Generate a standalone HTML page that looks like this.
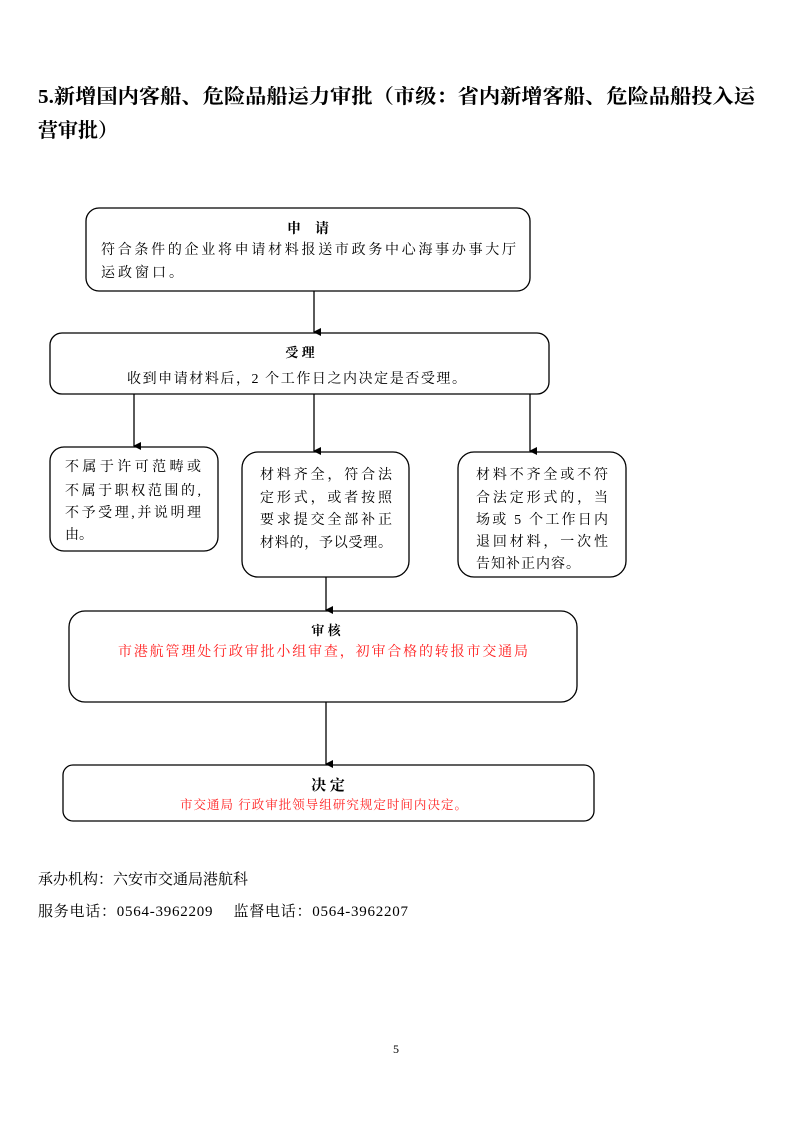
<!DOCTYPE html>
<html><head><meta charset="utf-8"><style>
html,body{margin:0;padding:0;background:#fff;}
svg{display:block;}
text{font-family:"Liberation Serif","Noto Serif CJK SC","Noto Sans CJK SC",serif;}
.b{fill:none;stroke:#000;stroke-width:1.3;}
.l{stroke:#000;stroke-width:1.3;}
</style></head><body>
<svg width="793" height="1122" viewBox="0 0 793 1122" xmlns="http://www.w3.org/2000/svg">
<defs><marker id="a" markerWidth="8" markerHeight="8" refX="4" refY="7" orient="auto" markerUnits="userSpaceOnUse"><path d="M0,0 L8,0 L4,8 z" fill="#000"/></marker></defs>
<text x="38" y="103" font-size="20" font-weight="bold" textLength="717" lengthAdjust="spacingAndGlyphs">5.新增国内客船、危险品船运力审批（市级：省内新增客船、危险品船投入运</text>
<text x="38" y="137" font-size="20" font-weight="bold">营审批）</text>

<rect class="b" x="86" y="208" width="444" height="83" rx="13"/>
<text x="308" y="233" font-size="14" font-weight="bold" text-anchor="middle">申　请</text>
<text x="101" y="254" font-size="14" textLength="415">符合条件的企业将申请材料报送市政务中心海事办事大厅</text>
<text x="101" y="277" font-size="14" letter-spacing="3">运政窗口。</text>
<line class="l" x1="314" y1="291" x2="314" y2="332" marker-end="url(#a)"/>

<rect class="b" x="50" y="333" width="499" height="61" rx="12"/>
<text x="300" y="357" font-size="13" font-weight="bold" text-anchor="middle">受 理</text>
<text x="127" y="383" font-size="14" textLength="339">收到申请材料后，2 个工作日之内决定是否受理。</text>

<line class="l" x1="134" y1="394" x2="134" y2="446" marker-end="url(#a)"/>
<line class="l" x1="314" y1="394" x2="314" y2="451" marker-end="url(#a)"/>
<line class="l" x1="530" y1="394" x2="530" y2="451" marker-end="url(#a)"/>

<rect class="b" x="50" y="447" width="168" height="104" rx="14"/>
<g font-size="14">
<text x="65" y="471" textLength="136">不属于许可范畴或</text>
<text x="65" y="495" textLength="136">不属于职权范围的,</text>
<text x="65" y="517" textLength="136">不予受理,并说明理</text>
<text x="65" y="539">由。</text>
</g>

<rect class="b" x="242" y="452" width="167" height="125" rx="16"/>
<g font-size="14">
<text x="260" y="479" textLength="132">材料齐全，符合法</text>
<text x="260" y="502" textLength="132">定形式，或者按照</text>
<text x="260" y="524" textLength="132">要求提交全部补正</text>
<text x="260" y="547" textLength="132">材料的，予以受理。</text>
</g>

<rect class="b" x="458" y="452" width="168" height="125" rx="16"/>
<g font-size="14">
<text x="476" y="479" textLength="132">材料不齐全或不符</text>
<text x="476" y="502" textLength="132">合法定形式的，当</text>
<text x="476" y="524" textLength="132">场或 5 个工作日内</text>
<text x="476" y="546" textLength="132">退回材料，一次性</text>
<text x="476" y="568" textLength="104">告知补正内容。</text>
</g>

<line class="l" x1="326" y1="577" x2="326" y2="610" marker-end="url(#a)"/>
<rect class="b" x="69" y="611" width="508" height="91" rx="16"/>
<text x="326" y="635" font-size="13" font-weight="bold" text-anchor="middle">审 核</text>
<text x="118" y="656" font-size="14" fill="#ff2020" textLength="410">市港航管理处行政审批小组审查，初审合格的转报市交通局</text>

<line class="l" x1="326" y1="702" x2="326" y2="764" marker-end="url(#a)"/>
<rect class="b" x="63" y="765" width="531" height="56" rx="10"/>
<text x="328" y="790" font-size="15" font-weight="bold" text-anchor="middle">决 定</text>
<text x="180" y="809" font-size="12.5" fill="#ff2020" textLength="287">市交通局 行政审批领导组研究规定时间内决定。</text>

<text x="38" y="884" font-size="15">承办机构：六安市交通局港航科</text>
<text x="38" y="916" font-size="15" textLength="370">服务电话：0564-3962209　 监督电话：0564-3962207</text>
<text x="396" y="1053" font-size="12" text-anchor="middle">5</text>
</svg>
</body></html>
